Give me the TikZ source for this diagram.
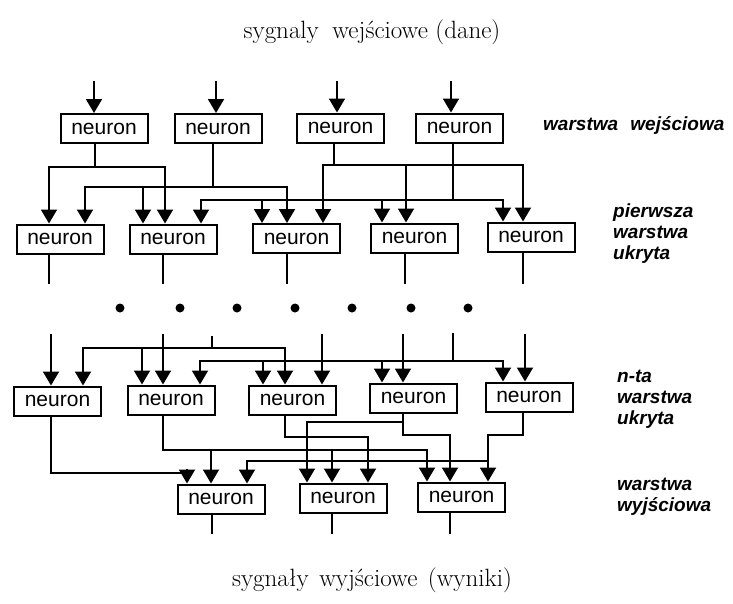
\documentclass[tikz,border=0pt]{standalone}
\usepackage{fontspec}
\newfontfamily\hel{Liberation Sans}
\usetikzlibrary{arrows.meta}
\newcommand\mydrop[3]{\draw[arr] (#1,#2) -- (#1,0 |- #3.north);}
\begin{document}
\begin{tikzpicture}[x=1pt,y=-1pt,
  box/.style={draw, line width=2pt, minimum width=87pt, minimum height=29pt, inner sep=0pt,
    font=\hel\fontsize{21}{21}\selectfont},
  wire/.style={line width=1.9pt, line cap=rect},
  arr/.style={wire, -{Triangle[width=16pt 0 0,length=14pt 0 0]}},
  lbl/.style={anchor=west, align=left, inner sep=0pt,
    font=\hel\bfseries\itshape\fontsize{19}{21}\selectfont},
  ttl/.style={inner sep=0pt, font=\fontsize{25}{30}\selectfont}]
\useasboundingbox (0,0) rectangle (733,603);

% titles
\node[ttl] (tin) at (372,32) {sygnaly\hspace{6pt} wejściowe (dane)};
\node[ttl] (tout) at (372,580) {sygnały\hspace{3pt} wyjściowe\hspace{3pt} (wyniki)};

% input layer
\node[box] (N1) at (104,128.5) {neuron};
\node[box] (N2) at (218,128.5) {neuron};
\node[box] (N3) at (340.5,128) {neuron};
\node[box] (N4) at (459.5,128) {neuron};
% first hidden layer
\node[box] (H1) at (60,239) {neuron};
\node[box] (H2) at (173,239) {neuron};
\node[box] (H3) at (296.5,238.5) {neuron};
\node[box] (H4) at (414.5,238) {neuron};
\node[box] (H5) at (531,237) {neuron};
% n-th hidden layer
\node[box] (M1) at (57.5,401) {neuron};
\node[box] (M2) at (171,400) {neuron};
\node[box] (M3) at (292.5,400) {neuron};
\node[box] (M4) at (413.5,398) {neuron};
\node[box] (M5) at (529,397) {neuron};
% output layer
\node[box] (O1) at (221,499) {neuron};
\node[box] (O2) at (343,498) {neuron};
\node[box] (O3) at (461.5,497) {neuron};

% labels
\node[lbl] (l1) at (543,125) {warstwa\hspace{7pt} wejściowa};
\node[lbl] (l2) at (613,234) {pierwsza\\warstwa\\ukryta};
\node[lbl] (l3) at (617,399) {n-ta\\warstwa\\ukryta};
\node[lbl] (l4) at (617,497) {warstwa\\wyjściowa};

% input signals
\coordinate (s1) at (94,82);
\coordinate (s2) at (216,82);
\coordinate (s3) at (337,82);
\coordinate (s4) at (451,82);
\draw[arr] (s1) -- (s1 |- N1.north);
\draw[arr] (s2) -- (s2 |- N2.north);
\draw[arr] (s3) -- (s3 |- N3.north);
\draw[arr] (s4) -- (s4 |- N4.north);

% input -> first hidden
\draw[wire] (95,0 |- N1.south) -- (95,167) (49,167) -- (165,167);
\mydrop{49}{167}{H1} \mydrop{165}{167}{H2}
\draw[wire] (213,0 |- N2.south) -- (213,187) (85,187) -- (287,187);
\mydrop{85}{187}{H1} \mydrop{143}{187}{H2} \mydrop{287}{187}{H3}
\draw[wire] (334,0 |- N3.south) -- (334,165) (323,165) -- (523,165);
\mydrop{323}{165}{H3} \mydrop{406}{165}{H4} \mydrop{523}{165}{H5}
\draw[wire] (453,0 |- N4.south) -- (453,200) (201,200) -- (503,200);
\mydrop{201}{200}{H2} \mydrop{262}{200}{H3} \mydrop{382}{200}{H4} \mydrop{503}{200}{H5}

% first hidden outputs
\foreach \x/\n in {49/H1,163/H2,287/H3,405/H4,523/H5}
  \draw[wire] (\x,0 |- \n.south) -- (\x,283);

% dots
\foreach \x in {120,180,237,295,352,411,468}
  \fill (\x,308) circle[radius=4.5pt];

% into n-th hidden layer
\foreach \x/\n in {51/M1,163/M2,322/M3,403/M4,525/M5}
  \draw[arr] (\x,335) -- (\x,0 |- \n.north);
\draw[wire] (212,337) -- (212,348) (83,348) -- (285,348);
\mydrop{83}{348}{M1} \mydrop{142}{348}{M2} \mydrop{285}{348}{M3}
\draw[wire] (453,334) -- (453,361) (200,361) -- (503,361);
\mydrop{200}{361}{M2} \mydrop{263}{361}{M3} \mydrop{382}{361}{M4} \mydrop{503}{361}{M5}

% n-th hidden -> output
\draw[wire] (51,0 |- M1.south) |- (187,473);
\mydrop{187}{473}{O1}
\draw[wire] (163,0 |- M2.south) |- (427,450);
\mydrop{211}{450}{O1} \mydrop{332}{450}{O2} \mydrop{427}{450}{O3}
\draw[wire] (285,0 |- M3.south) |- (368,437);
\mydrop{368}{437}{O2}
\draw[wire] (403,0 |- M4.south) |- (450,435) (307,422) -- (403,422);
\mydrop{307}{422}{O2} \mydrop{450}{435}{O3}
\draw[wire] (523,0 |- M5.south) |- (488,435) (247,461) -- (488,461);
\mydrop{488}{435}{O3} \mydrop{247}{461}{O1}

% outputs
\foreach \x/\n in {212/O1,332/O2,450/O3}
  \draw[wire] (\x,0 |- \n.south) -- (\x,533);
\end{tikzpicture}
\end{document}
